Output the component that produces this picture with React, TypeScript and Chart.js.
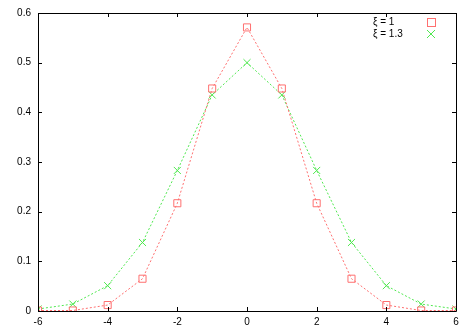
import React, { useEffect, useRef } from "react";
import { Chart, registerables } from "chart.js";

Chart.register(...registerables);

const xValues = [-6, -5, -4, -3, -2, -1, 0, 1, 2, 3, 4, 5, 6];
const seriesXi1 = [0.001, 0.001, 0.012, 0.065, 0.217, 0.448, 0.571, 0.448, 0.217, 0.065, 0.012, 0.001, 0.001];
const seriesXi13 = [0.004, 0.014, 0.051, 0.138, 0.283, 0.435, 0.5, 0.435, 0.283, 0.138, 0.051, 0.014, 0.004];
const seriesLabels = ["ξ = 1", "ξ = 1.3"];
const xTicks = [-6, -4, -2, 0, 2, 4, 6];
const yTicks = [0, 0.1, 0.2, 0.3, 0.4, 0.5, 0.6];

const RED = "#ff7070";
const GREEN = "#50e850";
const FONT = "Liberation Sans, Arial, sans-serif";

const framePlugin = {
  id: "frame",
  afterDatasetsDraw(chart: any) {
    const { ctx, chartArea: a, scales } = chart;
    const xs = scales.x;
    const ys = scales.y;
    ctx.save();
    ctx.strokeStyle = "#000";
    ctx.lineWidth = 1;
    ctx.beginPath();
    ctx.rect(Math.round(a.left) + 0.5, Math.round(a.top) + 0.5, Math.round(a.right - a.left), Math.round(a.bottom - a.top));
    ctx.stroke();
    const L = 4;
    ctx.beginPath();
    for (const v of xTicks) {
      const px = Math.round(xs.getPixelForValue(v)) + 0.5;
      ctx.moveTo(px, a.bottom);
      ctx.lineTo(px, a.bottom - L);
      ctx.moveTo(px, a.top);
      ctx.lineTo(px, a.top + L);
    }
    for (const v of yTicks) {
      const py = Math.round(ys.getPixelForValue(v)) + 0.5;
      ctx.moveTo(a.left, py);
      ctx.lineTo(a.left + L, py);
      ctx.moveTo(a.right, py);
      ctx.lineTo(a.right - L, py);
    }
    ctx.stroke();

    // legend
    ctx.font = "10px " + FONT;
    ctx.fillStyle = "#000";
    ctx.textBaseline = "middle";
    ctx.textAlign = "left";
    const rows = [22, 34];
    const mx = 431;
    ctx.fillText(seriesLabels[0], 373, rows[0]);
    ctx.fillText(seriesLabels[1], 373, rows[1]);
    ctx.lineWidth = 1;
    ctx.strokeStyle = RED;
    ctx.strokeRect(mx - 3.5, rows[0] - 3.5, 8, 8);
    ctx.strokeStyle = GREEN;
    ctx.beginPath();
    ctx.moveTo(mx - 4, rows[1] - 4);
    ctx.lineTo(mx + 4, rows[1] + 4);
    ctx.moveTo(mx + 4, rows[1] - 4);
    ctx.lineTo(mx - 4, rows[1] + 4);
    ctx.stroke();
    ctx.restore();
  },
};

export default function App() {
  const ref = useRef<HTMLCanvasElement>(null);
  useEffect(() => {
    document.body.style.margin = "0";
    const chart = new Chart(ref.current!, {
      type: "line",
      data: {
        datasets: [
          {
            label: seriesLabels[0],
            data: xValues.map((x, i) => ({ x, y: seriesXi1[i] })),
            borderColor: RED,
            borderWidth: 1,
            borderDash: [2, 2],
            pointStyle: "rect",
            pointRadius: 5,
            pointBorderColor: RED,
            pointBackgroundColor: "rgba(0,0,0,0)",
            pointBorderWidth: 1,
            tension: 0,
          },
          {
            label: seriesLabels[1],
            data: xValues.map((x, i) => ({ x, y: seriesXi13[i] })),
            borderColor: GREEN,
            borderWidth: 1,
            borderDash: [2, 2],
            pointStyle: "crossRot",
            pointRadius: 5,
            pointBorderColor: GREEN,
            pointBackgroundColor: "rgba(0,0,0,0)",
            pointBorderWidth: 1,
            tension: 0,
          },
        ],
      },
      options: {
        responsive: false,
        animation: false,
        events: [],
        layout: { padding: { top: 11, right: 15, left: 0, bottom: 0 } },
        plugins: { legend: { display: false }, tooltip: { enabled: false } },
        scales: {
          x: {
            type: "linear",
            min: -6,
            max: 6,
            afterFit: (s: any) => {
              s.height = 19;
            },
            afterBuildTicks: (s: any) => {
              s.ticks = xTicks.map((v) => ({ value: v }));
            },
            grid: { display: false, drawTicks: false },
            border: { display: false },
            ticks: {
              padding: 5,
              maxRotation: 0,
              color: "#000",
              font: { family: FONT, size: 10 },
              callback: (v: any) => String(v),
            },
          },
          y: {
            type: "linear",
            min: 0,
            max: 0.6,
            afterFit: (s: any) => {
              s.width = 38;
            },
            afterBuildTicks: (s: any) => {
              s.ticks = yTicks.map((v) => ({ value: v }));
            },
            grid: { display: false, drawTicks: false },
            border: { display: false },
            ticks: {
              padding: 7,
              color: "#000",
              font: { family: FONT, size: 10 },
              callback: (v: any) => (v === 0 ? "0" : Number(v).toFixed(1)),
            },
          },
        },
      },
      plugins: [framePlugin],
    });
    return () => chart.destroy();
  }, []);
  return <canvas ref={ref} width={471} height={330} style={{ display: "block", width: 471, height: 330 }} />;
}
